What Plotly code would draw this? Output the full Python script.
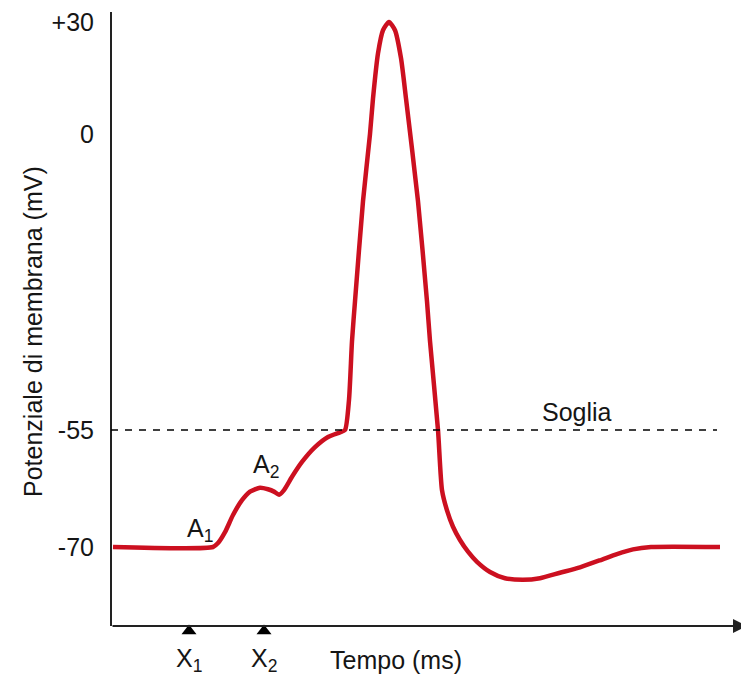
import numpy as np
import plotly.graph_objects as go

# potenziale d'azione: tempo (unita arbitrarie) e potenziale (mV)
tempo = [0.04, 2.04, 2.14, 2.28, 2.44, 2.62, 2.78, 2.98, 3.14, 3.26, 3.36, 3.46, 3.62, 3.82,
         4.08, 4.34, 4.58, 4.68,
         4.76, 4.82, 4.88, 5.04, 5.18, 5.24, 5.34, 5.44, 5.56, 5.68, 5.80, 5.90, 6.14,
         6.32, 6.38, 6.54, 6.62, 6.72, 6.84, 6.98, 7.14, 7.32, 7.58, 7.88, 8.24, 8.58,
         8.98, 9.38, 9.78, 10.12, 10.44, 10.80, 12.18]
potenziale = [-70, -70, -69.5, -68.1, -65.9, -64.0, -62.9, -62.4, -62.6, -62.9, -63.3, -62.7,
              -61.0, -59.1, -57.2, -55.9, -55.3, -55,
              -49.4, -38.5, -31.1, -12.5, 0, 9.5, 21.6, 27.8, 30, 27.8, 20.3, 9.5, -12.5,
              -31.1, -38.5, -55, -62.7, -65.3, -67.4, -69.1, -70.6, -71.9, -73.2, -74.0,
              -74.2, -74.0, -73.3, -72.6, -71.7, -70.9, -70.3, -70, -70]

tick_mv = [-70, -55, 0, 30]
tick_text = ["-70", "-55", "0", "+30"]
soglia = -55
stimoli_t = [1.56, 3.06]
stimoli_lbl = ["X<sub>1</sub>", "X<sub>2</sub>"]

# scala verticale non lineare dello schema originale (mV -> unita asse)
MV_ANCHORS = [-80, -70, -55, 0, 30]
POS_ANCHORS = [1, 79, 196, 492, 604]


def to_axis(mv):
    return np.interp(mv, MV_ANCHORS, POS_ANCHORS)


FONT = "Liberation Sans, Arial, Helvetica, sans-serif"
RED = "#cc1020"
INK = "#151515"
FS = 25

fig = go.Figure()

fig.add_trace(go.Scatter(
    x=tempo, y=to_axis(potenziale), mode="lines",
    line=dict(color=RED, width=4.5, shape="spline", smoothing=0.6),
    hoverinfo="skip"))

# triangolini degli stimoli sotto l'asse
fig.add_trace(go.Scatter(
    x=stimoli_t, y=[-5] * len(stimoli_t), mode="markers",
    marker=dict(symbol="triangle-up", size=13, color="black"),
    hoverinfo="skip"))

# assi disegnati a mano (asse y fino all'asse x, asse x con freccia)
fig.add_shape(type="line", x0=0, x1=0, y0=0, y1=614, line=dict(color="#222", width=2))
fig.add_annotation(x=12.72, y=0, ax=0, ay=0, xref="x", yref="y", axref="x", ayref="y",
                   showarrow=True, arrowhead=2, arrowsize=1.4, arrowwidth=2,
                   arrowcolor="#222", text="")

# soglia
fig.add_shape(type="line", x0=0, x1=12.12, y0=to_axis(soglia), y1=to_axis(soglia),
              line=dict(color="black", width=1.5, dash="7px,7px"))

for t, lbl in zip(stimoli_t, stimoli_lbl):
    fig.add_annotation(x=t, y=-34, text=lbl, showarrow=False,
                       font=dict(size=FS, color=INK, family=FONT))

fig.add_annotation(x=5.7, y=-34, text="Tempo (ms)", showarrow=False,
                   font=dict(size=FS, color=INK, family=FONT))
fig.add_annotation(x=1.78, y=96, text="A<sub>1</sub>", showarrow=False,
                   font=dict(size=FS, color=INK, family=FONT))
fig.add_annotation(x=3.1, y=160, text="A<sub>2</sub>", showarrow=False,
                   font=dict(size=FS, color=INK, family=FONT))
fig.add_annotation(x=9.32, y=214, text="Soglia", showarrow=False,
                   font=dict(size=FS, color=INK, family=FONT))
fig.add_annotation(xref="paper", x=-0.105, xanchor="center", y=295,
                   text="Potenziale di membrana (mV)",
                   textangle=-90, showarrow=False,
                   font=dict(size=FS, color=INK, family=FONT))

fig.update_xaxes(range=[-0.2, 12.76], showgrid=False, zeroline=False, showticklabels=False,
                 showline=False, fixedrange=True, automargin=False)
fig.update_yaxes(range=[-52, 618], showgrid=False, zeroline=False,
                 tickvals=to_axis(tick_mv), ticktext=tick_text,
                 ticks="outside", ticklen=1, tickcolor="rgba(0,0,0,0)",
                 ticklabeloverflow="allow",
                 tickfont=dict(size=FS, color=INK, family=FONT),
                 showline=False, fixedrange=True, automargin=False)

# la pagina html ha 8px di margine: figura ridotta di 8px per stare nella finestra
fig.update_layout(width=741, height=670, margin=dict(l=93, r=0, t=0, b=0),
                  plot_bgcolor="white", paper_bgcolor="white", showlegend=False,
                  font=dict(family=FONT, size=FS, color=INK))

fig.write_html("out.html")
